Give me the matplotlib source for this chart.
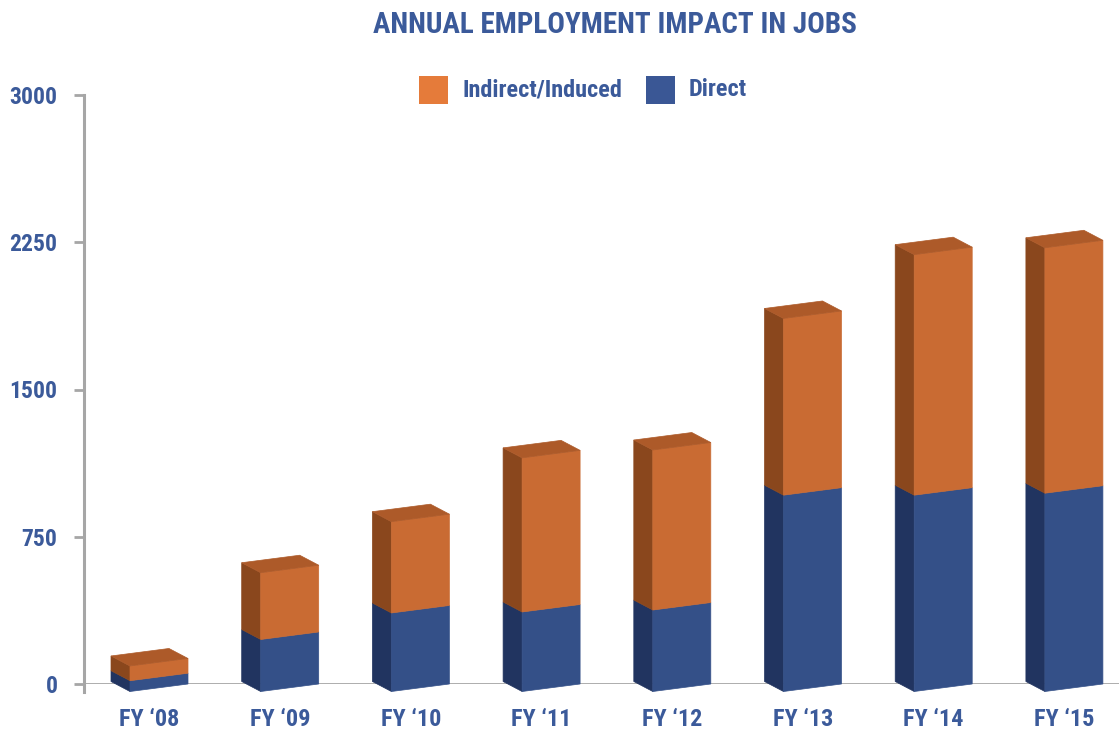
import numpy as np
import matplotlib.pyplot as plt
import matplotlib.font_manager as fm
from matplotlib.patches import Polygon, Rectangle

# pick a narrow bold face if one is installed
narrow_words = ('condensed', 'narrow')
found = []
for f in fm.fontManager.ttflist:
    st = f.stretch
    is_narrow = (st < 500) if isinstance(st, (int, float)) else any(w in str(st) for w in narrow_words)
    if is_narrow or any(w in f.name.lower() for w in narrow_words):
        found.append((f.name, st))
font_name, font_stretch = 'DejaVu Sans', 'normal'
for pref in ('Roboto Condensed', 'Liberation Sans Narrow', 'Open Sans Condensed', 'DejaVu Sans Condensed', 'DejaVu Sans'):
    hits = [x for x in found if x[0] == pref]
    if hits:
        font_name, font_stretch = hits[0]
        break
else:
    if found:
        font_name, font_stretch = found[0]
plt.rcParams['font.family'] = [font_name, 'DejaVu Sans']
plt.rcParams['font.stretch'] = font_stretch

years = ["FY \u201808", "FY \u201809", "FY \u201810", "FY \u201811",
         "FY \u201812", "FY \u201813", "FY \u201814", "FY \u201815"]
direct = [55, 265, 400, 405, 415, 1000, 1000, 1010]
indirect = [75, 340, 465, 785, 815, 900, 1225, 1250]
yticks = [0, 750, 1500, 2250, 3000]

text_blue = '#3b5a9a'
axis_grey = '#a6a6a6'
# front, side, top
orange = ('#c96b33', '#8a471d', '#ad5a29')
blue = ('#345088', '#213460', '#2b4475')

W, H = 1119, 731
fig = plt.figure(figsize=(W / 100, H / 100), dpi=100)

px_per_bar = 130.7
x0 = 159  # pixel centre of first front face
xmin = (84 - x0) / px_per_bar
xmax = (W - x0) / px_per_bar
ax = fig.add_axes([84 / W, (H - 684) / H, (W - 84) / W, (684 - 95) / H])
ax.set_xlim(xmin, xmax)
ax.set_ylim(0, 3000)

units_per_px = 3000 / (684 - 95)
w = 58 / px_per_bar          # front width
dx = 19 / px_per_bar         # depth offset
dy = 10 * units_per_px
k = 7.5 * units_per_px       # perspective skew of front face


def box(x, b, t, cols, top=False):
    fl, fr = x - w / 2, x + w / 2
    front = [(fl, b - k), (fr, b), (fr, t), (fl, t - k)]
    side = [(fl, b - k), (fl, t - k), (fl - dx, t - k + dy), (fl - dx, b - k + dy)]
    for pts, c in ((side, cols[1]), (front, cols[0])):
        ax.add_patch(Polygon(pts, closed=True, facecolor=c, edgecolor=c,
                             lw=0.5, clip_on=False, zorder=3))
    if top:
        tp = [(fl, t - k), (fr, t), (fr - dx, t + dy), (fl - dx, t - k + dy)]
        ax.add_patch(Polygon(tp, closed=True, facecolor=cols[2], edgecolor=cols[2],
                             lw=0.5, clip_on=False, zorder=3))


for i in range(len(years)):
    d, ind = direct[i], indirect[i]
    box(i, 0, d, blue)
    box(i, d, d + ind, orange, top=True)

for s in ax.spines.values():
    s.set_visible(False)
ax.axhline(0, color=axis_grey, lw=2, zorder=1)
ax.plot([xmin, xmin], [-40, 3000], color=axis_grey, lw=2.2, clip_on=False, zorder=1)

ax.set_yticks(yticks)
ax.set_yticklabels([str(v) for v in yticks])
ax.tick_params(axis='y', length=7, width=2, color=axis_grey, pad=12,
               labelsize=17, labelcolor=text_blue)
for lab in ax.get_yticklabels():
    lab.set_fontweight('bold')

ax.set_xticks([])
for i, lab in enumerate(years):
    ax.text(i - dx / 2, -180, lab, ha='center', va='center', fontsize=17.5,
            fontweight='bold', color=text_blue)

fig.text(615 / W, 1 - 25 / H, 'ANNUAL EMPLOYMENT IMPACT IN JOBS', ha='center',
         va='center', fontsize=21, fontweight='bold', color=text_blue)

# legend
fig.patches.append(Rectangle((419 / W, 1 - 104 / H), 29 / W, 28 / H,
                             transform=fig.transFigure, facecolor='#e57b3a',
                             edgecolor='none'))
fig.text(462 / W, 1 - 90 / H, 'Indirect/Induced', ha='left', va='center',
         fontsize=17.5, fontweight='bold', color=text_blue)
fig.patches.append(Rectangle((646 / W, 1 - 104 / H), 29 / W, 28 / H,
                             transform=fig.transFigure, facecolor='#3a5795',
                             edgecolor='none'))
fig.text(689 / W, 1 - 90 / H, 'Direct', ha='left', va='center',
         fontsize=17.5, fontweight='bold', color=text_blue)

fig.savefig('out.png', dpi=100)
